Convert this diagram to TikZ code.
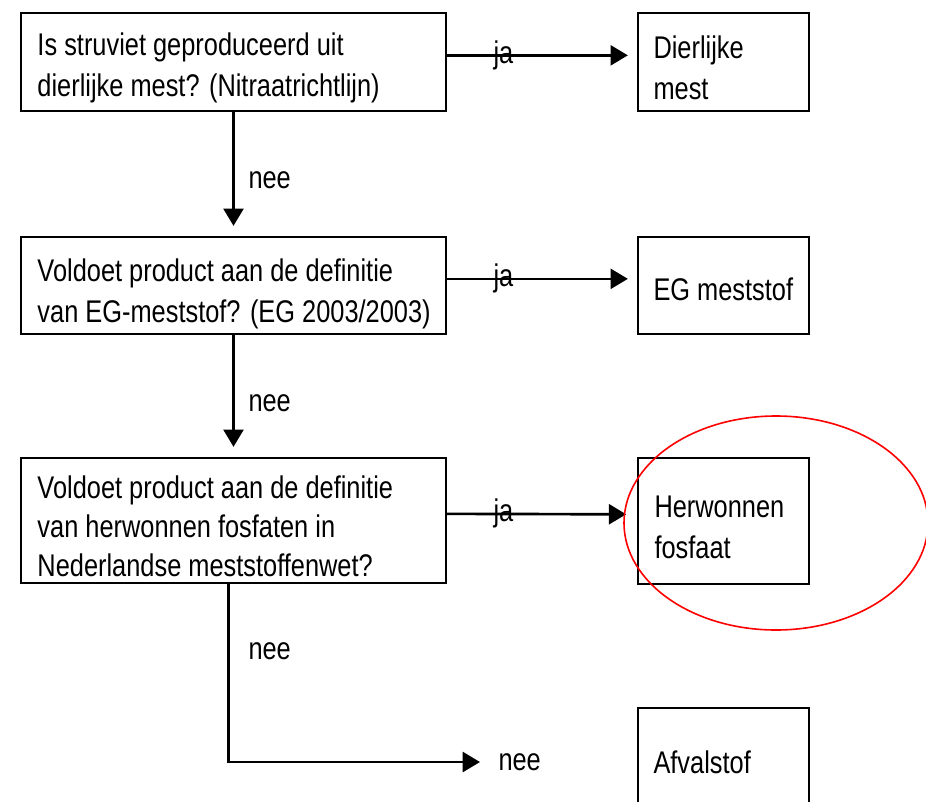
\documentclass[tikz,border=0pt]{standalone}
\usepackage{fontspec}
\setmainfont{Liberation Sans}[FakeStretch=0.81]
\usetikzlibrary{arrows.meta}

\tikzset{every picture/.style={line width=0.75pt}}
\tikzset{
	vak/.style={draw, line width=1.7pt, inner sep=0pt},
	vraag/.style={vak, minimum width=318.75pt},
	uitkomst/.style={vak, minimum width=128.25pt},
	tekst/.style={anchor=north west, inner sep=0pt, align=left, font=\fontsize{23.5}{31}\selectfont},
	lbl/.style={inner sep=0pt, font=\fontsize{23.5}{28}\selectfont},
	pijl/.style={line width=2pt, -{Triangle[length=13pt,width=15pt]}},
}

\begin{document}
\begin{tikzpicture}[x=0.75pt,y=0.75pt,yscale=-1,xscale=1]
	\useasboundingbox (0,0) rectangle (926,801);
	
	%Shape: Rectangle
	\node[vraag, minimum height=73.5pt] (vraag1) at (233.5,62) {};
	%Shape: Rectangle
	\node[uitkomst, minimum height=73.5pt] (uit1) at (723.5,62) {};
	%Shape: Rectangle
	\node[vraag, minimum height=72.75pt] (vraag2) at (233.5,285.5) {};
	%Shape: Rectangle
	\node[uitkomst, minimum height=72.75pt] (uit2) at (723.5,285.5) {};
	%Shape: Rectangle
	\node[vraag, minimum height=93.75pt] (vraag3) at (233.5,520.5) {};
	%Shape: Rectangle
	\node[uitkomst, minimum height=94.5pt] (uit3) at (723.5,521) {};
	%Shape: Rectangle
	\node[uitkomst, minimum height=78pt] (uit4) at (723.5,760) {};
	
	% Text Node
	\node[tekst] (tvraag1) at (37,32) {Is struviet geproduceerd uit\\dierlijke mest? (Nitraatrichtlijn)};
	% Text Node
	\node[tekst] (tuit1) at (653,35) {Dierlijke\\mest};
	% Text Node
	\node[tekst] (tvraag2) at (37,258) {Voldoet product aan de definitie\\van EG-meststof? (EG 2003/2003)};
	% Text Node
	\node[tekst] (tuit2) at (653,277) {EG meststof};
	% Text Node
	\node[tekst, font=\fontsize{23.5}{29.5}\selectfont] (tvraag3) at (37,475) {Voldoet product aan de definitie\\van herwonnen fosfaten in\\Nederlandse meststoffenwet?};
	% Text Node
	\node[tekst] (tuit3) at (654,495) {Herwonnen\\fosfaat};
	% Text Node
	\node[tekst] (tuit4) at (653,750) {Afvalstof};
	
	% Text Node
	\node[lbl, anchor=base west] (ja1) at (493,63) {ja};
	% Text Node
	\node[lbl, anchor=base west] (ja2) at (493,286) {ja};
	% Text Node
	\node[lbl, anchor=base west] (ja3) at (493,521) {ja};
	% Text Node
	\node[lbl, anchor=west] (nee1) at (248,180) {nee};
	% Text Node
	\node[lbl, anchor=west] (nee2) at (248,403) {nee};
	% Text Node
	\node[lbl, anchor=west] (nee3) at (248,651) {nee};
	% Text Node
	\node[lbl, anchor=west] (nee4) at (498,762) {nee};
	
	%Straight Lines
	\draw[pijl, shorten >=6.75pt] ([yshift=-5pt]vraag1.east) -- ([yshift=-5pt]uit1.west);
	%Straight Lines
	\draw[pijl, shorten >=6.75pt] ([yshift=-5pt]vraag2.east) -- ([yshift=-5pt]uit2.west);
	%Straight Lines
	\draw[pijl, shorten >=8pt] ([yshift=-5pt]vraag3.east) -- ([yshift=-5pt]uit3.west);
	%Straight Lines
	\draw[pijl, shorten >=7.5pt] (vraag1.south) -- (vraag2.north);
	%Straight Lines
	\draw[pijl, shorten >=7.5pt] (vraag2.south) -- (vraag3.north);
	%Straight Lines
	\draw[pijl, shorten >=13.5pt] ([xshift=-4pt]vraag3.south) |- (nee4.west);
	
	%Shape: Ellipse
	\draw[color=red, line width=1.2pt] (776,523) ellipse [x radius=152, y radius=107];
	
\end{tikzpicture}
\end{document}
